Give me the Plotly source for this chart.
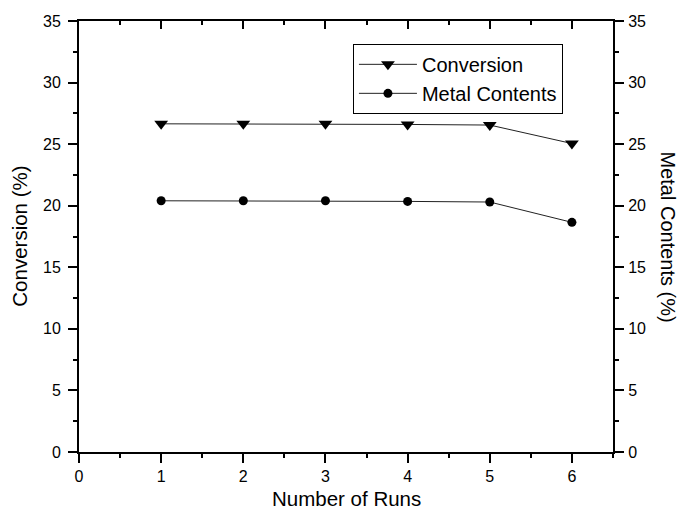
import plotly.graph_objects as go

runs = [1, 2, 3, 4, 5, 6]
conversion = [26.65, 26.65, 26.65, 26.6, 26.55, 25.05]
metal_contents = [20.4, 20.4, 20.4, 20.35, 20.3, 18.65]
x_ticks = [0, 1, 2, 3, 4, 5, 6]
y_ticks = [0, 5, 10, 15, 20, 25, 30, 35]

FONT = "Liberation Sans, Arial, sans-serif"

fig = go.Figure()
fig.add_trace(go.Scatter(
    x=runs, y=conversion, name="Conversion", mode="lines+markers",
    line=dict(color="#222", width=1),
    marker=dict(symbol="triangle-down", size=12, color="black"),
    xaxis="x", yaxis="y",
))
fig.add_trace(go.Scatter(
    x=runs, y=metal_contents, name="Metal Contents", mode="lines+markers",
    line=dict(color="#222", width=1),
    marker=dict(symbol="circle", size=9, color="black"),
    xaxis="x2", yaxis="y2",
))

axis_common = dict(showgrid=False, zeroline=False, showline=True, linecolor="black",
                   linewidth=2, tickcolor="black", tickwidth=1.5,
                   tickfont=dict(family=FONT, size=16, color="black"))

fig.update_layout(
    width=681, height=509,
    margin=dict(l=79, r=68, t=21, b=57),
    paper_bgcolor="white", plot_bgcolor="white",
    showlegend=True,
    legend=dict(x=0.513, y=0.947, xanchor="left", yanchor="top",
                bordercolor="black", borderwidth=1, bgcolor="white",
                font=dict(family=FONT, size=20, color="black"),
                tracegroupgap=0, itemwidth=58),
    xaxis=dict(range=[0, 6.5], tickvals=x_ticks, ticks="outside", ticklen=9,
               minor=dict(dtick=0.5, tick0=0, ticks="outside", ticklen=4, tickcolor="black"),
               **axis_common),
    xaxis2=dict(range=[0, 6.5], overlaying="x", side="top", tickvals=x_ticks,
                ticks="inside", ticklen=8, showticklabels=False,
                minor=dict(dtick=0.5, tick0=0, ticks="inside", ticklen=4, tickcolor="black"),
                **axis_common),
    yaxis=dict(range=[0, 35], tickvals=y_ticks, ticks="outside", ticklen=9,
               ticklabelstandoff=4,
               minor=dict(dtick=2.5, tick0=0, ticks="outside", ticklen=4, tickcolor="black"),
               **axis_common),
    yaxis2=dict(range=[0, 35], overlaying="y", side="right", tickvals=y_ticks,
                ticks="outside", ticklen=9, ticklabelstandoff=1,
                minor=dict(dtick=2.5, tick0=0, ticks="outside", ticklen=4, tickcolor="black"),
                **axis_common),
    annotations=[
        dict(text="Number of Runs", xref="paper", yref="paper", x=0.5, y=-0.107,
             xanchor="center", yanchor="middle", showarrow=False,
             font=dict(family=FONT, size=20.5, color="black")),
        dict(text="Conversion (%)", xref="paper", yref="paper", x=-0.112, y=0.5,
             xanchor="center", yanchor="middle", showarrow=False, textangle=-90,
             font=dict(family=FONT, size=20.5, color="black")),
        dict(text="Metal Contents (%)", xref="paper", yref="paper", x=1.103, y=0.5,
             xanchor="center", yanchor="middle", showarrow=False, textangle=90,
             font=dict(family=FONT, size=20, color="black")),
    ],
)

fig.write_html("out.html")
